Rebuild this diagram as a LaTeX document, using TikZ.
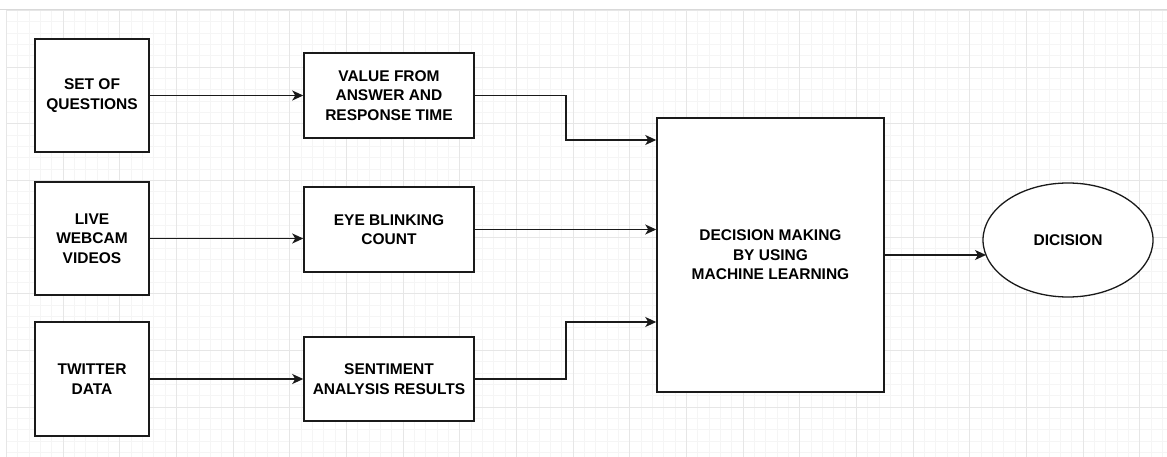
\documentclass[tikz,border=0pt]{standalone}
\usepackage{fontspec}
\setmainfont{Liberation Sans}
\usetikzlibrary{arrows.meta,shapes.geometric}
\definecolor{gridminor}{HTML}{F5F5F5}
\definecolor{gridmajor}{HTML}{E6E6E6}
\definecolor{inkline}{HTML}{1A1A1A}
\begin{document}
\begin{tikzpicture}[x=1pt,y=-1pt,
  every node/.style={font=\fontsize{15.5}{19.5}\selectfont\bfseries, align=center, text=black},
  boxnode/.style={draw=inkline, line width=1.5pt, fill=white, rectangle, inner sep=2pt},
  srcbox/.style={boxnode, minimum width=114pt, minimum height=113pt},
  midbox/.style={boxnode, minimum width=170pt, minimum height=85pt},
  flow/.style={draw=inkline, line width=1.5pt, -{Stealth[length=11pt,width=10pt,inset=3pt]}}]
  % canvas
  \fill[white] (0,0) rectangle (1167,457);
  \useasboundingbox (0,0) rectangle (1167,457);
  % background grid
  \foreach \k in {0,...,102}{
    \pgfmathsetmacro{\gx}{6.3+\k*11.333}
    \draw[gridminor, line width=0.8pt] (\gx,10) -- (\gx,457);
  }
  \foreach \k in {0,...,39}{
    \pgfmathsetmacro{\gy}{10.3+\k*11.333}
    \draw[gridminor, line width=0.8pt] (7,\gy) -- (1167,\gy);
  }
  \foreach \k in {0,...,20}{
    \pgfmathsetmacro{\gx}{6.3+\k*56.667}
    \draw[gridmajor, line width=0.9pt] (\gx,10) -- (\gx,457);
  }
  \foreach \k in {0,...,7}{
    \pgfmathsetmacro{\gy}{10.3+\k*56.667}
    \draw[gridmajor, line width=0.9pt] (7,\gy) -- (1167,\gy);
  }
  \draw[gray!30, line width=1pt] (0,9.3) -- (1167,9.3);

  % input sources
  \node[srcbox] (q) at (92,95.5) {SET OF\\QUESTIONS};
  \node[srcbox] (w) at (92,238.5) {LIVE\\WEBCAM\\VIDEOS};
  \node[srcbox, minimum height=114pt] (t) at (92,379) {TWITTER\\DATA};

  % extracted features
  \node[midbox] (v) at (389,95.5) {VALUE FROM\\ANSWER AND\\RESPONSE TIME};
  \node[midbox] (e) at (389,229.5) {EYE BLINKING\\COUNT};
  \node[midbox, minimum height=84pt] (s) at (389,379) {SENTIMENT\\ANALYSIS RESULTS};

  % decision stage
  \node[boxnode, minimum width=227pt, minimum height=274pt] (d) at (770.5,255)
       {DECISION MAKING\\BY USING\\MACHINE LEARNING};
  \node[draw=inkline, line width=1.3pt, fill=white, ellipse, minimum width=170pt, minimum height=114pt, inner sep=0pt]
       (c) at (1068,240) {DICISION};

  % elbow points and entry points
  \coordinate (j1) at (566,140);
  \coordinate (j2) at (566,322);
  \coordinate (cin) at (986,255);

  % connectors
  \draw[flow] (q) -- (v);
  \draw[flow] (w.east) -- (w.east -| e.west);
  \draw[flow] (t) -- (s);
  \draw[flow] (v.east) -| (j1) -- (d.west |- j1);
  \draw[flow] (e.east) -- (e.east -| d.west);
  \draw[flow] (s.east) -| (j2) -- (d.west |- j2);
  \draw[flow] (d.east) -- (cin);
\end{tikzpicture}
\end{document}
